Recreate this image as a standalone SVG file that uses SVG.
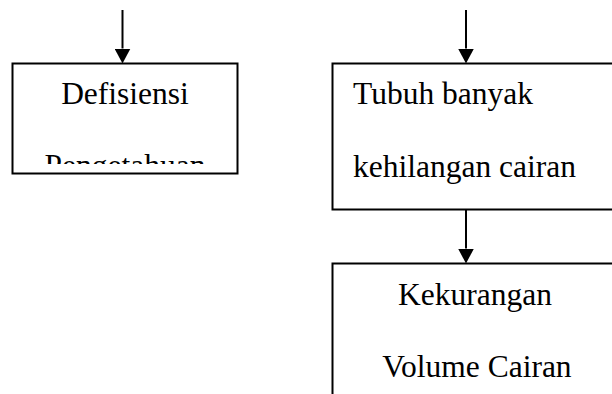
<svg xmlns="http://www.w3.org/2000/svg" width="612" height="394" viewBox="0 0 612 394">
  <style>
    .box { fill: #fff; stroke: #000; stroke-width: 2; }
    .lbl { font-family: "Liberation Serif", "Times New Roman", serif; font-size: 31.5px; fill: #000; }
    .conn { stroke: #000; stroke-width: 2; fill: none; marker-end: url(#arrow); }
  </style>
  <defs>
    <marker id="arrow" markerUnits="userSpaceOnUse" markerWidth="16" markerHeight="16" refX="0" refY="8" orient="auto" viewBox="0 0 16 16">
      <path d="M0,0 L15,8 L0,16 Z" fill="#000"/>
    </marker>
    <clipPath id="clipLeft">
      <rect x="13" y="64" width="224" height="100"/>
    </clipPath>
  </defs>
  <rect width="612" height="394" fill="#fff"/>
  <g id="node-defisiensi">
    <rect class="box" x="12.5" y="63.5" width="225" height="110"/>
    <g clip-path="url(#clipLeft)">
      <text class="lbl" x="125" y="104" text-anchor="middle">Defisiensi</text>
      <text class="lbl" x="125" y="176" text-anchor="middle">Pengetahuan</text>
    </g>
  </g>
  <g id="node-tubuh">
    <rect class="box" x="332.5" y="63.5" width="292" height="146"/>
    <text class="lbl" x="353" y="104">Tubuh banyak</text>
    <text class="lbl" x="353" y="177">kehilangan cairan</text>
  </g>
  <g id="node-kekurangan">
    <rect class="box" x="332.5" y="263.5" width="292" height="145"/>
    <text class="lbl" x="475" y="305" text-anchor="middle">Kekurangan</text>
    <text class="lbl" x="477" y="377" text-anchor="middle">Volume Cairan</text>
  </g>
  <g id="connectors">
    <line class="conn" x1="122.5" y1="10" x2="122.5" y2="48.5"/>
    <line class="conn" x1="466" y1="10" x2="466" y2="48.5"/>
    <line class="conn" x1="466" y1="210" x2="466" y2="248.5"/>
  </g>
</svg>
